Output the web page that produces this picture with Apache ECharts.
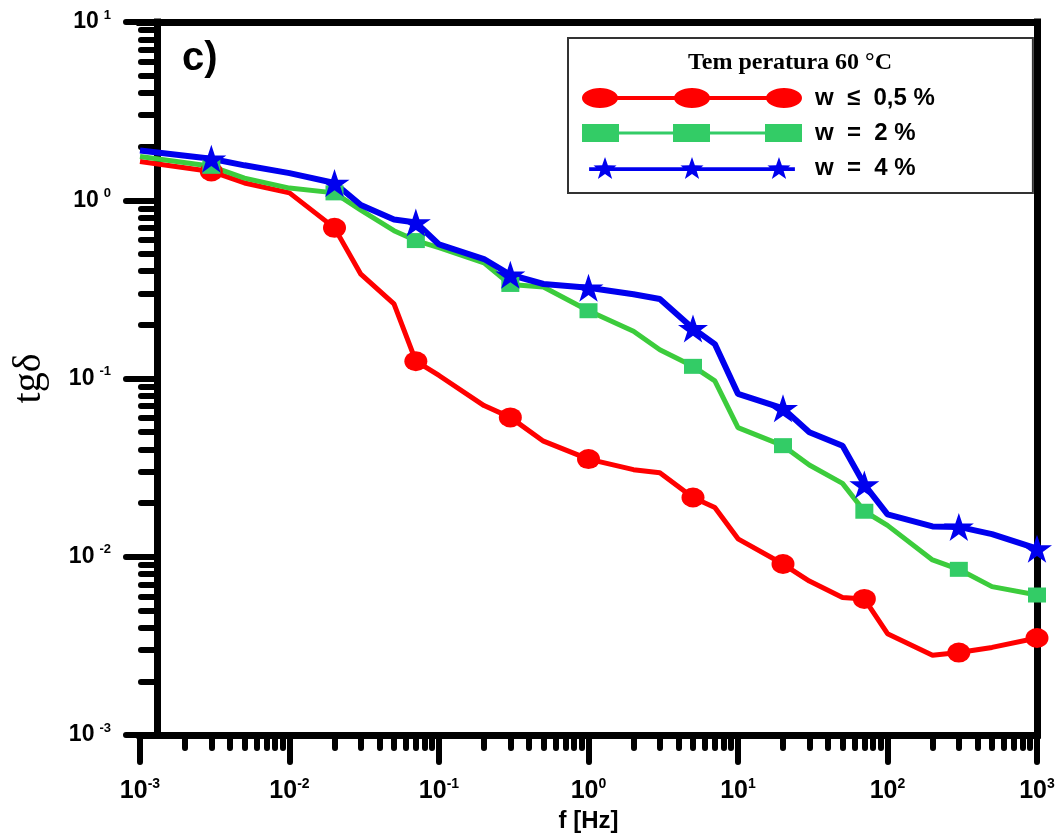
<!DOCTYPE html>
<html><head><meta charset="utf-8">
<script src="https://cdn.jsdelivr.net/npm/echarts@6/dist/echarts.min.js"></script>
<style>html,body{margin:0;padding:0;background:#fff;overflow:hidden;width:100%;height:100%}#c{width:1059px;height:838px;position:absolute;left:0;top:0}</style>
</head><body><div id="c"></div>
<script>
// ---- data ----
const freq = [0.001,0.003,0.005,0.01,0.02,0.03,0.05,0.07,0.1,0.2,0.3,0.5,1,2,3,5,7,10,20,30,50,70,100,200,300,500,1000];
const tgRed   = [1.65,1.45,1.25,1.10,0.70,0.385,0.262,0.125,0.104,0.0705,0.0605,0.0445,0.0353,0.0308,0.0296,0.0215,0.0189,0.0126,0.0091,0.0073,0.0059,0.0058,0.0037,0.0028,0.0029,0.0031,0.0035];
const tgGreen = [1.76,1.55,1.33,1.17,1.10,0.88,0.675,0.594,0.543,0.445,0.337,0.326,0.24,0.184,0.145,0.117,0.097,0.053,0.042,0.0327,0.0258,0.018,0.0150,0.0096,0.0085,0.0068,0.0061];
const tgBlue  = [1.90,1.71,1.57,1.42,1.25,0.94,0.78,0.75,0.565,0.468,0.382,0.339,0.323,0.297,0.279,0.191,0.156,0.082,0.068,0.050,0.042,0.0254,0.0173,0.0148,0.0147,0.0134,0.0111];
const markerFreq = [0.003,0.02,0.07,0.3,1,5,20,70,300,1000];
const seriesNames = ['w  \u2264  0,5 %', 'w  =  2 %', 'w  =  4 %'];
const minorMult = [2,3,4,5,6,7,8,9];
const panelLabel = 'c)';
const legendTitle = 'Tem peratura 60 \u00B0C';
const xName = 'f [Hz]';
const yName = 'tg\u03B4';

const SANS = "'Liberation Sans', Arial, sans-serif";
const SERIF = "'Liberation Serif', 'Times New Roman', serif";

function minorExps(lo, hi) {
  const out = [];
  for (let e = lo; e < hi; e++) minorMult.forEach(m => out.push(e + Math.log10(m)));
  return out;
}

const starPath = 'path://M50,0L61.2,34.5L97.6,34.5L68.2,55.9L79.4,90.5L50,69.1L20.6,90.5L31.8,55.9L2.4,34.5L38.8,34.5Z';

function starSub(cx, cy, R) {
  const r = R * 0.4; let d = '';
  for (let i = 0; i < 10; i++) {
    const a = -Math.PI / 2 + i * Math.PI / 5;
    const rr = i % 2 === 0 ? R : r;
    d += (i === 0 ? 'M' : 'L') + (cx + rr * Math.cos(a)).toFixed(2) + ',' + (cy + rr * Math.sin(a)).toFixed(2);
  }
  return d + 'Z';
}
const iconRed = 'path://M0,11A18,10,0,1,1,36,11A18,10,0,1,1,0,11Z M34,9L94,9L94,13L34,13Z M92,11A18,10,0,1,1,128,11A18,10,0,1,1,92,11Z M126,9L186,9L186,13L126,13Z M184,11A18,10,0,1,1,220,11A18,10,0,1,1,184,11Z';
const iconGreen = 'path://M0,2L37,2L37,20L0,20Z M35,9.5L93,9.5L93,12.5L35,12.5Z M91,2L128,2L128,20L91,20Z M126,9.5L185,9.5L185,12.5L126,12.5Z M183,2L220,2L220,20L183,20Z';
const iconBlue = 'path://M0,9L220,9L220,13L0,13Z ' + starSub(17, 11, 13) + ' ' + starSub(110, 11, 13) + ' ' + starSub(203, 11, 13);

function build(vals, sym, size) {
  return freq.map((f, i) => ({
    value: [f, vals[i]],
    symbol: markerFreq.indexOf(f) >= 0 ? sym : 'none',
    symbolSize: size
  }));
}

const supRich = (fs, ss, pad) => ({
  b: { fontSize: fs, fontWeight: 'bold', fontFamily: SANS, color: '#000', lineHeight: fs + 4 },
  s: { fontSize: ss, fontWeight: 'bold', fontFamily: SANS, color: '#000', verticalAlign: 'top', lineHeight: ss, padding: [0, 0, 0, pad] }
});
const expFmt = v => '{b|10}{s|' + Math.round(Math.log10(v)) + '}';

const chart = echarts.init(document.getElementById('c'), null, { renderer: 'canvas', width: 1059, height: 838 });
chart.setOption({
  animation: false,
  backgroundColor: '#fff',
  title: [
    { text: panelLabel, left: 182, top: 39, padding: 0,
      textStyle: { fontSize: 40, fontWeight: 'bold', fontFamily: SANS, color: '#000' } },
    { text: legendTitle, left: 790, top: 51, padding: 0, textAlign: 'center',
      textStyle: { fontSize: 24, fontWeight: 'bold', fontFamily: SERIF, color: '#000' } }
  ],
  legend: {
    orient: 'vertical', left: 568, top: 38,
    padding: [48, 98, 13, 14],
    itemWidth: 220, itemHeight: 22, itemGap: 11,
    borderColor: '#333', borderWidth: 2,
    selectedMode: false,
    textStyle: { fontSize: 24, fontWeight: 'bold', fontFamily: SANS, color: '#000', padding: [0, 0, 0, 8] },
    data: [
      { name: seriesNames[0], icon: iconRed },
      { name: seriesNames[1], icon: iconGreen },
      { name: seriesNames[2], icon: iconBlue }
    ]
  },
  grid: { left: 140, right: 22, top: 22, bottom: 95, containLabel: false },
  xAxis: [
    { type: 'log', logBase: 10, min: 0.001, max: 1000, interval: 1, position: 'bottom',
      name: xName, nameLocation: 'middle', nameGap: 74,
      nameTextStyle: { fontSize: 24, fontWeight: 'bold', fontFamily: SANS, color: '#000' },
      axisLine: { onZero: false, lineStyle: { color: '#000', width: 7, cap: 'square' } },
      axisTick: { length: 27, lineStyle: { color: '#000', width: 6, cap: 'round' } },
      axisLabel: { margin: 42, formatter: expFmt, rich: supRich(25, 14, 0) },
      splitLine: { show: false }, minorTick: { show: false } },
    { type: 'value', min: -3, max: 3, position: 'bottom',
      axisLine: { show: false, onZero: false }, axisLabel: { show: false }, splitLine: { show: false },
      axisTick: { show: true, customValues: minorExps(-3, 3), length: 13, lineStyle: { color: '#000', width: 6, cap: 'round' } } },
    { type: 'value', min: -3, max: 3, position: 'top',
      axisLine: { onZero: false, lineStyle: { color: '#000', width: 7, cap: 'square' } },
      axisTick: { show: false }, axisLabel: { show: false }, splitLine: { show: false } }
  ],
  yAxis: [
    { type: 'log', logBase: 10, min: 0.001, max: 10, interval: 1, position: 'left', offset: -17,
      name: yName, nameLocation: 'middle', nameGap: 108,
      nameTextStyle: { fontSize: 40, fontFamily: SERIF, color: '#000' },
      axisLine: { onZero: false, lineStyle: { color: '#000', width: 7, cap: 'square' } },
      axisTick: { length: 31, lineStyle: { color: '#000', width: 6, cap: 'round' } },
      axisLabel: { margin: 46, formatter: expFmt, rich: supRich(23, 13, 5) },
      splitLine: { show: false }, minorTick: { show: false } },
    { type: 'value', min: -3, max: 1, position: 'left', offset: -17,
      axisLine: { show: false, onZero: false }, axisLabel: { show: false }, splitLine: { show: false },
      axisTick: { show: true, customValues: minorExps(-3, 1), length: 16, lineStyle: { color: '#000', width: 6, cap: 'round' } } },
    { type: 'value', min: -3, max: 1, position: 'right',
      axisLine: { onZero: false, lineStyle: { color: '#000', width: 7, cap: 'square' } },
      axisTick: { show: false }, axisLabel: { show: false }, splitLine: { show: false } }
  ],
  series: [
    { name: seriesNames[0], type: 'line', xAxisIndex: 0, yAxisIndex: 0, clip: false,
      data: build(tgRed, 'circle', [23, 20]),
      itemStyle: { color: '#ff0000' }, lineStyle: { color: '#ff0000', width: 5 } },
    { name: seriesNames[1], type: 'line', xAxisIndex: 0, yAxisIndex: 0, clip: false,
      data: build(tgGreen, 'rect', [18, 15]),
      itemStyle: { color: '#33cc66' }, lineStyle: { color: '#3ccc3c', width: 5 } },
    { name: seriesNames[2], type: 'line', xAxisIndex: 0, yAxisIndex: 0, clip: false,
      data: build(tgBlue, starPath, [30, 28]),
      itemStyle: { color: '#0000ee' }, lineStyle: { color: '#0000ee', width: 6 } }
  ]
});
</script></body></html>
